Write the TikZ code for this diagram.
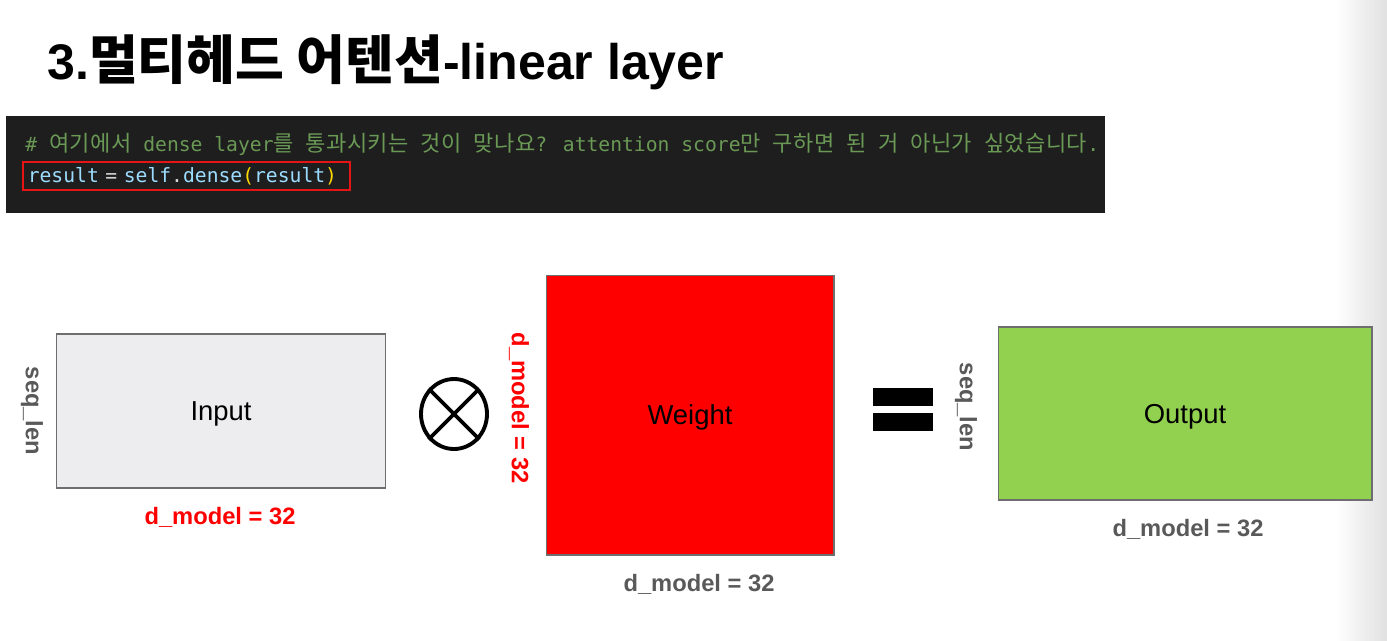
\documentclass[tikz,border=0pt]{standalone}
\usepackage{fontspec}
\usepackage{xcolor}
\usetikzlibrary{shapes.geometric}
\setmainfont{Liberation Sans}
\newfontfamily\krtitle{Noto Sans CJK KR Bold}[Scale=1.06]
\newfontfamily\krcode{Noto Sans CJK KR}[Scale=1.12, LetterSpace=2]
\newfontfamily\codefont{DejaVu Sans Mono}
\newcommand{\hg}[1]{{\krcode #1}}
\definecolor{codebg}{RGB}{30,30,30}
\definecolor{codecomment}{RGB}{106,153,85}
\definecolor{codevar}{RGB}{156,220,254}
\definecolor{codeplain}{RGB}{212,212,212}
\definecolor{codeparen}{RGB}{255,215,0}
\definecolor{codered}{RGB}{230,20,20}
\definecolor{inputfill}{RGB}{237,237,239}
\definecolor{outputfill}{RGB}{146,208,80}
\definecolor{dimgrey}{RGB}{89,89,89}
\definecolor{boxborder}{RGB}{110,110,110}

\begin{document}
\begin{tikzpicture}[x=0.02cm, y=-0.02cm,
    matbox/.style={draw=boxborder, line width=0.6pt, inner sep=0pt, text depth=0pt, font=\fontsize{15.6}{18}\selectfont},
    dimlabel/.style={font=\fontsize{13.5}{16}\selectfont\bfseries, inner sep=0pt}]
    \useasboundingbox (0,0) rectangle (1387,640);
    \shade[left color=white, right color=black!12] (1335,0) rectangle (1387,640);

    % Title
    \node[anchor=base west, inner sep=0pt, font=\fontsize{28.5}{34}\selectfont\bfseries] (title) at (47,79)
        {3.{\krtitle 멀티헤드 어텐션}-linear layer};

    % Code screenshot
    \fill[codebg] (6,116) rectangle (1105,213);
    \node[anchor=base west, inner sep=0pt, text=codecomment, font=\codefont\fontsize{11.2}{13}\selectfont] (comment) at (25,151)
        {\# \hg{여기에서} dense layer\hg{를} \hg{통과시키는} \hg{것이} \hg{맞나요}? attention score\hg{만} \hg{구하면} \hg{된} \hg{거} \hg{아닌가} \hg{싶었습니다}.};
    \node[anchor=west, draw=codered, line width=0.9pt, text width=6.34cm, inner xsep=0.1cm, inner ysep=0pt,
        minimum height=0.56cm, align=left, font=\codefont\fontsize{11.2}{13}\selectfont] (codeline) at (22,176)
        {\textcolor{codevar}{result} \textcolor{codeplain}{=} \textcolor{codevar}{self}\textcolor{codeplain}{.}\textcolor{codevar}{dense}\textcolor{codeparen}{(}\textcolor{codevar}{result}\textcolor{codeparen}{)}};

    % Matrices
    \node[matbox, fill=inputfill, minimum width=6.6cm, minimum height=3.08cm] (input) at (221,411) {Input};
    \node[matbox, fill=red, minimum width=5.76cm, minimum height=5.6cm] (weight) at (690,415) {Weight};
    \node[matbox, fill=outputfill, minimum width=7.48cm, minimum height=3.46cm] (output) at (1185,413.5) {Output};

    % Operators
    \node[ellipse, draw, line width=2.2pt, minimum width=1.32cm, minimum height=1.4cm, inner sep=0pt] (times) at (454,414) {};
    \draw[line width=2.2pt] (times.45) -- (times.225);
    \draw[line width=2.2pt] (times.135) -- (times.315);
    \node[fill=black, minimum width=1.2cm, minimum height=0.36cm, inner sep=0pt] (eqtop) at (903,397) {};
    \node[fill=black, minimum width=1.2cm, minimum height=0.36cm, inner sep=0pt] (eqbot) at (903,422) {};

    % Dimension labels
    \node[dimlabel, text=dimgrey, rotate=-90] (inrows) at (32,411) {seq\_len};
    \node[dimlabel, text=red] (incols) at (220,517) {d\_model = 32};
    \node[dimlabel, text=red, rotate=-90] (wrows) at (519,408) {d\_model = 32};
    \node[dimlabel, text=dimgrey] (wcols) at (699,584) {d\_model = 32};
    \node[dimlabel, text=dimgrey, rotate=-90] (outrows) at (966,407) {seq\_len};
    \node[dimlabel, text=dimgrey] (outcols) at (1188,529) {d\_model = 32};
\end{tikzpicture}
\end{document}
